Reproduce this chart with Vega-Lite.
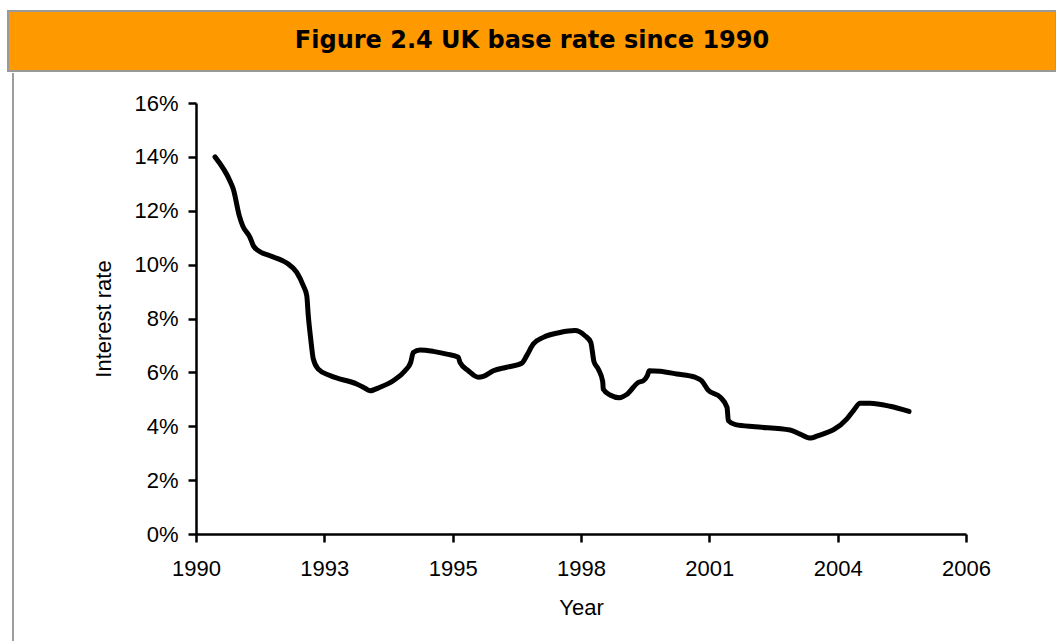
{
  "$schema": "https://vega.github.io/schema/vega-lite/v6.json",
  "padding": {"left": 7, "top": 10, "right": 0, "bottom": 0},
  "background": "white",
  "spacing": 0,
  "config": {
    "view": {"stroke": null},
    "axis": {
      "domainColor": "black",
      "domainWidth": 2.5,
      "tickColor": "black",
      "tickWidth": 2.5,
      "tickSize": 8,
      "grid": false,
      "labelFont": "Liberation Sans, sans-serif",
      "labelFontSize": 22,
      "labelColor": "black",
      "titleFont": "Liberation Sans, sans-serif",
      "titleFontSize": 22,
      "titleFontWeight": "normal",
      "titleColor": "black"
    }
  },
  "vconcat": [
    {
      "width": 1048,
      "height": 60,
      "view": {"fill": "#FF9900", "stroke": "#999999", "strokeWidth": 2},
      "data": {"values": [{"title": "Figure 2.4 UK base rate since 1990"}]},
      "mark": {"type": "text", "font": "DejaVu Sans", "fontSize": 24, "fontWeight": "bold", "color": "black"},
      "encoding": {"text": {"field": "title", "type": "nominal"}}
    },
    {
      "spacing": 78,
      "hconcat": [
        {
          "width": 5,
          "height": 431,
          "data": {"values": [{"v": 1, "top": 1.0696, "bottom": -0.2483}]},
          "mark": {"type": "rule", "color": "#9E9E9E", "strokeWidth": 2},
          "encoding": {
            "x": {"field": "v", "type": "quantitative", "scale": {"domain": [0, 1]}, "axis": null},
            "y": {"field": "top", "type": "quantitative", "scale": {"domain": [0, 1], "nice": false, "zero": false}, "axis": null},
            "y2": {"field": "bottom"}
          }
        },
        {
          "width": 770,
          "height": 431,
          "data": {"values": [
            {"period": 1.48, "rate": 14.0},
            {"period": 2.70, "rate": 13.05},
            {"period": 2.91, "rate": 12.8},
            {"period": 3.37, "rate": 11.82},
            {"period": 3.64, "rate": 11.44},
            {"period": 4.21, "rate": 11.01},
            {"period": 4.47, "rate": 10.70},
            {"period": 4.85, "rate": 10.52},
            {"period": 5.77, "rate": 10.33},
            {"period": 7.07, "rate": 10.06},
            {"period": 7.85, "rate": 9.71},
            {"period": 8.36, "rate": 9.22},
            {"period": 8.63, "rate": 8.85},
            {"period": 8.75, "rate": 8.10},
            {"period": 8.94, "rate": 7.24},
            {"period": 9.14, "rate": 6.50},
            {"period": 9.53, "rate": 6.12},
            {"period": 10.44, "rate": 5.88},
            {"period": 12.52, "rate": 5.57},
            {"period": 13.04, "rate": 5.45},
            {"period": 13.56, "rate": 5.32},
            {"period": 14.34, "rate": 5.45},
            {"period": 15.37, "rate": 5.69},
            {"period": 16.29, "rate": 6.06},
            {"period": 16.73, "rate": 6.37},
            {"period": 16.93, "rate": 6.74},
            {"period": 17.46, "rate": 6.83},
            {"period": 18.49, "rate": 6.78},
            {"period": 19.54, "rate": 6.68},
            {"period": 20.44, "rate": 6.56},
            {"period": 20.57, "rate": 6.37},
            {"period": 21.22, "rate": 6.06},
            {"period": 22.00, "rate": 5.82},
            {"period": 22.39, "rate": 5.85},
            {"period": 23.17, "rate": 6.06},
            {"period": 24.21, "rate": 6.19},
            {"period": 25.38, "rate": 6.34},
            {"period": 25.77, "rate": 6.62},
            {"period": 26.28, "rate": 7.05},
            {"period": 27.06, "rate": 7.30},
            {"period": 28.36, "rate": 7.48},
            {"period": 29.53, "rate": 7.55},
            {"period": 30.31, "rate": 7.36},
            {"period": 30.76, "rate": 7.12},
            {"period": 31.01, "rate": 6.40},
            {"period": 31.35, "rate": 6.12},
            {"period": 31.69, "rate": 5.66},
            {"period": 31.74, "rate": 5.37},
            {"period": 32.26, "rate": 5.16},
            {"period": 33.00, "rate": 5.06},
            {"period": 33.56, "rate": 5.18},
            {"period": 34.47, "rate": 5.63},
            {"period": 34.86, "rate": 5.69},
            {"period": 35.17, "rate": 5.88},
            {"period": 35.32, "rate": 6.06},
            {"period": 36.16, "rate": 6.04},
            {"period": 37.46, "rate": 5.94},
            {"period": 38.88, "rate": 5.82},
            {"period": 39.40, "rate": 5.69},
            {"period": 39.89, "rate": 5.35},
            {"period": 40.87, "rate": 5.07},
            {"period": 41.38, "rate": 4.70},
            {"period": 41.48, "rate": 4.21},
            {"period": 42.04, "rate": 4.06},
            {"period": 43.56, "rate": 3.98},
            {"period": 46.29, "rate": 3.86},
            {"period": 47.07, "rate": 3.71},
            {"period": 47.90, "rate": 3.56},
            {"period": 48.37, "rate": 3.63},
            {"period": 50.72, "rate": 4.27},
            {"period": 51.23, "rate": 4.58},
            {"period": 51.75, "rate": 4.85},
            {"period": 52.52, "rate": 4.85},
            {"period": 54.08, "rate": 4.74},
            {"period": 55.56, "rate": 4.55}
          ]},
          "mark": {"type": "line", "color": "black", "strokeWidth": 5, "interpolate": "monotone", "strokeCap": "round", "strokeJoin": "round"},
          "encoding": {
            "x": {
              "field": "period", "type": "quantitative",
              "scale": {"domain": [0, 60], "nice": false, "zero": false},
              "axis": {
                "title": "Year",
                "values": [0, 10, 20, 30, 40, 50, 60],
                "labelExpr": "['1990','1993','1995','1998','2001','2004','2006'][round(datum.value/10)]",
                "labelFlush": false,
                "labelOverlap": false,
                "labelPadding": 16,
                "titlePadding": 18
              }
            },
            "y": {
              "field": "rate", "type": "quantitative",
              "scale": {"domain": [0, 16], "nice": false},
              "axis": {
                "title": "Interest rate",
                "values": [0, 2, 4, 6, 8, 10, 12, 14, 16],
                "labelExpr": "datum.value + '%'",
                "labelPadding": 10,
                "titlePadding": 18.5
              }
            }
          }
        }
      ]
    }
  ]
}
